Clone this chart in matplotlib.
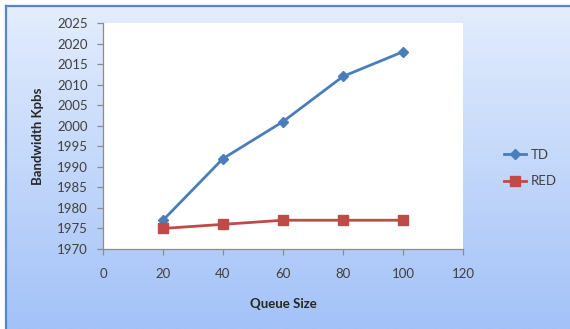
import matplotlib
matplotlib.use("Agg")
import matplotlib.pyplot as plt
import numpy as np
from matplotlib.lines import Line2D

queue_size = [20, 40, 60, 80, 100]
td = [1977, 1992, 2001, 2012, 2018]
red = [1975, 1976, 1977, 1977, 1977]
xticks = [0, 20, 40, 60, 80, 100, 120]
yticks = [1970, 1975, 1980, 1985, 1990, 1995, 2000, 2005, 2010, 2015, 2020, 2025]

plt.rcParams['font.family'] = ['Lato', 'DejaVu Sans']

W, H = 570, 329
fig = plt.figure(figsize=(W/100, H/100), dpi=100)
fig.patch.set_facecolor('white')

# gradient background
bg = fig.add_axes([6/W, 0, 1 - 6/W, 1 - 6/H])
top = np.array([0xe3, 0xed, 0xfd]) / 255
bot = np.array([0xa3, 0xc2, 0xf8]) / 255
t = np.linspace(0, 1, 256)[:, None]
grad = top[None, :] * (1 - t) + bot[None, :] * t
bg.imshow(grad[:, None, :], aspect='auto', extent=[0, 1, 0, 1])
bg.set_axis_off()
# border lines
fig.add_artist(Line2D([5.5/W, 5.5/W], [0, 1 - 5.5/H], color='#5a87c4', lw=1.6, transform=fig.transFigure))
fig.add_artist(Line2D([5.5/W, 1], [1 - 5.5/H, 1 - 5.5/H], color='#5a87c4', lw=1.6, transform=fig.transFigure))

ax = fig.add_axes([103/W, 1 - 249/H, (463 - 103)/W, (249 - 23)/H])
ax.set_facecolor('white')
ax.plot(queue_size, td, color='#4a7ebb', lw=2.0, marker='D', markersize=5.5, label='TD')
ax.plot(queue_size, red, color='#be4b48', lw=2.0, marker='s', markersize=7, label='RED')
ax.set_xlim(0, 120)
ax.set_ylim(1970, 2025)
ax.set_xticks(xticks)
ax.set_yticks(yticks)
for s in ['top', 'right']:
    ax.spines[s].set_visible(False)
for s in ['left', 'bottom']:
    ax.spines[s].set_color('#8c8c8c')
    ax.spines[s].set_linewidth(0.9)
ax.tick_params(axis='both', colors='#8c8c8c', labelcolor='#404040', labelsize=9.5, length=4, width=0.9)
ax.tick_params(axis='y', pad=7)
ax.tick_params(axis='x', pad=10)
ax.set_xlabel('Queue Size', fontsize=9.5, fontweight='bold', color='#262626', labelpad=13)
ax.set_ylabel('Bandwidth Kpbs', fontsize=9.5, fontweight='bold', color='#262626', labelpad=9)

fig.legend(loc='center left', bbox_to_anchor=(492/W, 1 - 168/H), frameon=False,
           fontsize=9.5, labelcolor='#404040', handlelength=1.7, handletextpad=0.3,
           labelspacing=1.1)

fig.savefig('out.png', dpi=100, facecolor=fig.get_facecolor())
